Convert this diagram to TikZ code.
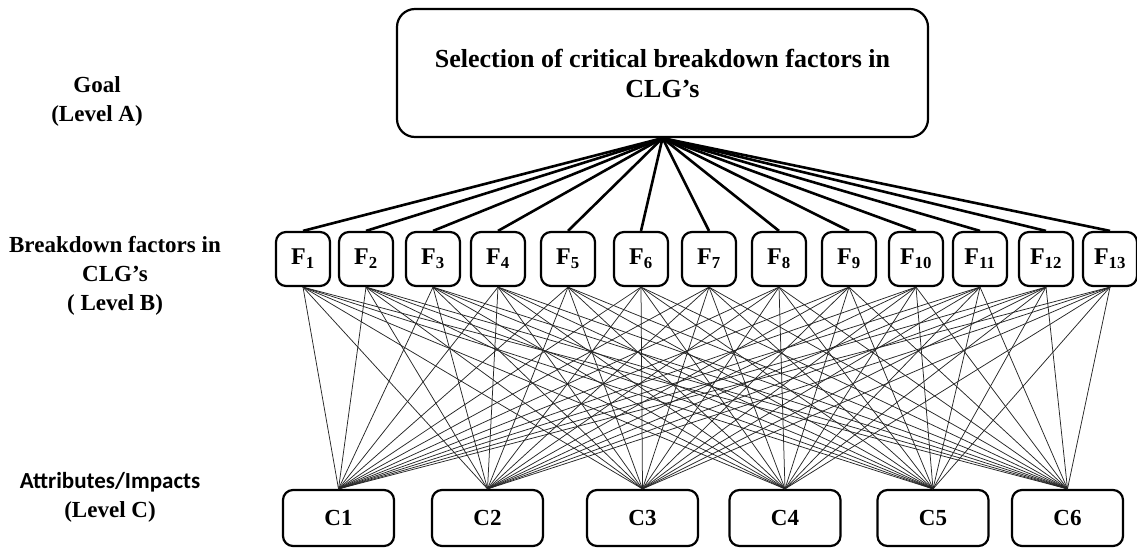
\documentclass[tikz,border=0pt]{standalone}
\usepackage{fontspec}
\setmainfont{Liberation Serif}
\newfontfamily\labelsans{Carlito}
\usepackage{tikz}
\usetikzlibrary{positioning}
\tikzstyle{level box}=[draw, rounded corners=10pt, line width=2.2pt, inner sep=0pt]
\tikzstyle{goal box}=[level box, rounded corners=18pt, minimum width=531pt, minimum height=128pt, align=center, font=\fontsize{26}{30}\selectfont\bfseries]
\tikzstyle{factor box}=[level box, minimum width=54pt, minimum height=54pt, font=\fontsize{24}{28}\selectfont\bfseries]
\tikzstyle{impact box}=[level box, minimum width=111pt, minimum height=56pt, font=\fontsize{23}{26}\selectfont\bfseries]
\tikzstyle{level label}=[align=center, font=\fontsize{23}{29}\selectfont\bfseries]
\tikzstyle{goal edge}=[line width=2.6pt]
\tikzstyle{cross edge}=[line width=0.75pt, black!85]

\begin{document}
\begin{tikzpicture}[x=1pt,y=-1pt]
\useasboundingbox (0,0) rectangle (1137,547);
\def\factorY{259}
\def\impactY{518}

    % Goal (Level A)
    \node[goal box] (goal) at (662.5,73) {Selection of critical breakdown factors in\\CLG's};

    % Breakdown factors (Level B)
    \foreach \name / \x in {1/303,2/366,3/433,4/498,5/568,6/641,7/709,8/779,9/849,10/916,11/980,12/1046,13/1110}
        \node[factor box] (F-\name) at (\x,\factorY) {F\textsubscript{\name}};

    % Attributes (Level C)
    \foreach \name / \x in {1/338.5,2/487.5,3/642.5,4/785,5/933,6/1067.5}
        \node[impact box] (C-\name) at (\x,\impactY) {C\name};

    \node[level label] (goal-label) at (97,101) {Goal\\(Level A)};
    \node[level label] (factor-label) at (115,276) {Breakdown factors in\\CLG's\\( Level B)};
    \node[level label] (impact-label) at (110,497) {{\labelsans Attributes/Impacts}\\(Level C)};

    \foreach \dest in {1,...,13}
        \path (goal.south) edge[goal edge] (F-\dest.north);

    \foreach \source in {1,...,13}
        \foreach \dest in {1,...,6}
            \path (F-\source.south) edge[cross edge] (C-\dest.north);

\end{tikzpicture}
\end{document}
